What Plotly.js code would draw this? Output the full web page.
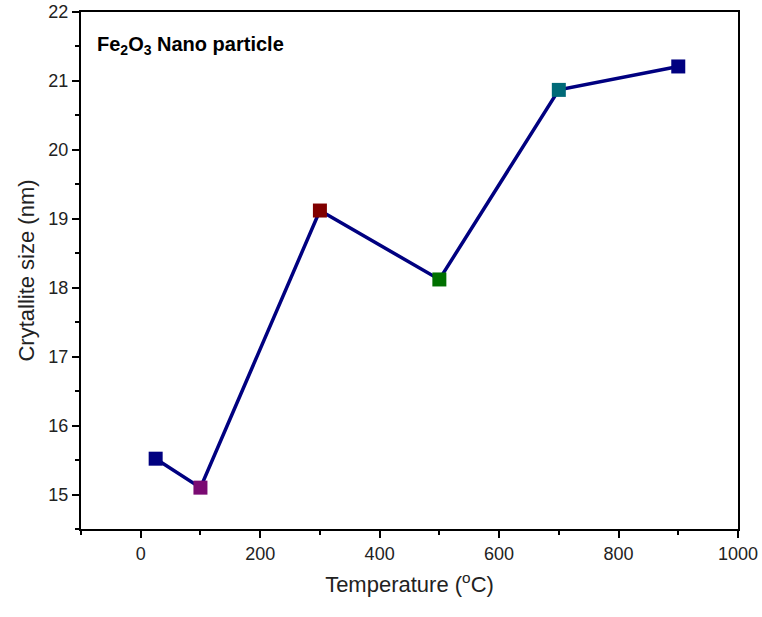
<!DOCTYPE html>
<html>
<head>
<meta charset="utf-8">
<script src="https://cdn.plot.ly/plotly-3.0.1.min.js"></script>
<style>
  html, body { margin: 0; padding: 0; background: #fff; }
  #plot { width: 762px; height: 617px; }
</style>
</head>
<body>
<div id="plot"></div>
<script>
// temperatures and crystallite sizes
var temps = [25, 100, 300, 500, 700, 900];
var sizes = [15.52, 15.1, 19.12, 18.12, 20.87, 21.21];
var markerColors = ["#000080", "#7a0a72", "#800000", "#007000", "#006a78", "#000080"];

var trace = {
    x: temps,
    y: sizes,
    mode: "lines+markers",
    type: "scatter",
    line: {color: "#000080", width: 3.5},
    marker: {symbol: "square", size: 14, color: markerColors},
    showlegend: false
};

var axisFont = {family: "Liberation Sans, Arial, sans-serif", size: 18, color: "#222"};
var titleFont = {family: "Liberation Sans, Arial, sans-serif", size: 22, color: "#222"};

var layout = {
    width: 762,
    height: 617,
    margin: {l: 81, r: 24, t: 12, b: 88},
    paper_bgcolor: "#fff",
    plot_bgcolor: "#fff",
    xaxis: {
        range: [-100, 1000],
        tickvals: [0, 200, 400, 600, 800, 1000],
        ticks: "outside",
        ticklen: 7,
        tickwidth: 2,
        tickcolor: "#000",
        minor: {dtick: 100, ticks: "outside", ticklen: 4, tickwidth: 2, tickcolor: "#000"},
        showgrid: false,
        zeroline: false,
        showline: true,
        linecolor: "#000",
        linewidth: 2,
        mirror: true,
        tickfont: axisFont,
        title: {text: "Temperature (<sup>o</sup>C)", font: titleFont, standoff: 14}
    },
    yaxis: {
        range: [14.5, 22],
        tickvals: [15, 16, 17, 18, 19, 20, 21, 22],
        ticks: "outside",
        ticklen: 7,
        tickwidth: 2,
        tickcolor: "#000",
        minor: {dtick: 0.5, ticks: "outside", ticklen: 4, tickwidth: 2, tickcolor: "#000"},
        showgrid: false,
        zeroline: false,
        showline: true,
        linecolor: "#000",
        linewidth: 2,
        mirror: true,
        tickfont: axisFont,
        title: {text: "Crytallite size (nm)", font: titleFont, standoff: 8}
    },
    annotations: [{
        xref: "paper", yref: "paper",
        x: 0.022, y: 0.935,
        xanchor: "left", yanchor: "middle",
        showarrow: false,
        text: "<b>Fe<sub>2</sub>O<sub>3</sub> Nano particle</b>",
        font: {family: "Liberation Sans, Arial, sans-serif", size: 20, color: "#000"}
    }]
};

Plotly.newPlot("plot", [trace], layout, {displayModeBar: false, staticPlot: true});
</script>
</body>
</html>
